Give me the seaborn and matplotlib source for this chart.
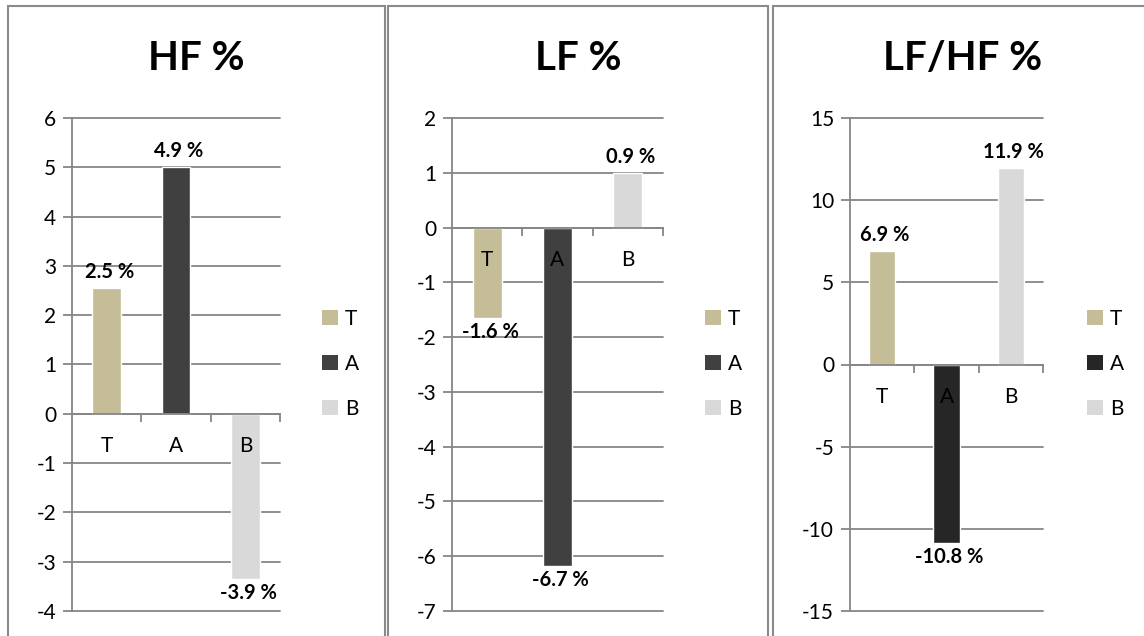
import matplotlib
matplotlib.use('Agg')

import matplotlib.pyplot as plt
import numpy as np
import pandas as pd
import seaborn as sns
from matplotlib.patches import Rectangle, Patch

# Data
categories = ["T", "A", "B"]

hf_values = [2.55, 5.0, -3.35]
hf_labels = ["2.5 %", "4.9 %", "-3.9 %"]

lf_values = [-1.65, -6.18, 1.0]
lf_labels = ["-1.6 %", "-6.7 %", "0.9 %"]

ratio_values = [6.9, -10.88, 11.93]
ratio_labels = ["6.9 %", "-10.8 %", "11.9 %"]

titles = ["HF %", "LF %", "LF/HF %"]
yticks_hf = list(range(-4, 7, 1))
yticks_lf = list(range(-7, 3, 1))
yticks_ratio = list(range(-15, 16, 5))

sns.set_style("white")
plt.rcParams['font.family'] = ['Lato', 'DejaVu Sans']
plt.rcParams['axes.unicode_minus'] = False
plt.rcParams['text.color'] = 'black'
plt.rcParams['xtick.color'] = 'black'
plt.rcParams['ytick.color'] = 'black'

W, H = 1144, 636
fig = plt.figure(figsize=(W / 100, H / 100), dpi=100)

grid_col = "#868686"
border_col = "#8a8a8a"

# panel layout in pixels: (border left, border right, axes left, axes right, legend x)
panels = [
    (8, 385, 72, 280, 322),
    (388, 768, 452, 663, 705),
    (773, 1152, 850, 1043, 1087),
]
series = [
    (hf_values, hf_labels, yticks_hf, ["#C4BD97", "#404040", "#D9D9D9"]),
    (lf_values, lf_labels, yticks_lf, ["#C4BD97", "#404040", "#D9D9D9"]),
    (ratio_values, ratio_labels, yticks_ratio, ["#C4BD97", "#262626", "#D9D9D9"]),
]

ax_top, ax_bot = 118, 611

for i, (p, s) in enumerate(zip(panels, series)):
    bl, br, al, ar, lx = p
    vals, labs, yt, cols = s

    # chart-area border
    fig.add_artist(Rectangle((bl / W, -0.05), (br - bl) / W, 1.05 - 6 / H,
                             transform=fig.transFigure, fill=False,
                             ec=border_col, lw=1.5))

    # title centred over the panel
    fig.text((bl + br) / 2 / W, 1 - 59 / H, titles[i], ha="center", va="center",
             fontsize=29, fontweight="bold", color="black")

    ax = fig.add_axes([al / W, 1 - ax_bot / H, (ar - al) / W, (ax_bot - ax_top) / H])
    df = pd.DataFrame({"cat": categories, "val": vals})
    palette = dict(zip(categories, cols))
    sns.barplot(data=df, x="cat", y="val", hue="cat", palette=palette,
                width=0.41, dodge=False, legend=False, saturation=1, ax=ax)
    for bar in ax.patches:
        bar.set_zorder(1)

    ax.set_ylim(yt[0], yt[-1])
    ax.set_xlim(-0.5, 2.5)
    ax.set_yticks(yt)
    ax.set_xlabel("")
    ax.set_ylabel("")

    # gridlines behind bars, tick labels stay on top
    for y in yt:
        ax.axhline(y, color=grid_col, lw=1.3, zorder=0.5, clip_on=False)
    ax.xaxis.set_zorder(5)
    ax.yaxis.set_zorder(5)

    for side in ["top", "right"]:
        ax.spines[side].set_visible(False)
    ax.spines["left"].set_color(grid_col)
    ax.spines["left"].set_linewidth(1.3)
    ax.spines["bottom"].set_position(("data", 0))
    ax.spines["bottom"].set_color(grid_col)
    ax.spines["bottom"].set_linewidth(1.3)

    ax.tick_params(axis="y", direction="out", length=6.5, width=1.3,
                   color=grid_col, labelcolor="black", pad=5, labelsize=15,
                   left=True)
    ax.tick_params(axis="x", which="major", length=0, pad=16, labelsize=15,
                   labelcolor="black", bottom=True)
    ax.set_xticks([0.5, 1.5, 2.5], minor=True)
    ax.tick_params(axis="x", which="minor", direction="out", length=6,
                   width=1.3, color=grid_col, bottom=True)

    # data labels
    for x, (v, t) in enumerate(zip(vals, labs)):
        off = 11.5 if v > 0 else -10
        ax.annotate(t, (x, v), xytext=(2, off), textcoords="offset points",
                    ha="center", va="center", fontsize=14.5, fontweight="bold",
                    color="black", zorder=6)

    # legend on the right
    handles = [Patch(facecolor=c, edgecolor="none", label=n) for n, c in zip(categories, cols)]
    fig.legend(handles=handles, loc="center left",
               bbox_to_anchor=(lx / W, 1 - 364 / H), frameon=False,
               fontsize=15, handlelength=0.75, handleheight=0.7,
               handletextpad=0.35, labelspacing=1.2, borderpad=0,
               borderaxespad=0)

plt.savefig("out.png", dpi=100)
